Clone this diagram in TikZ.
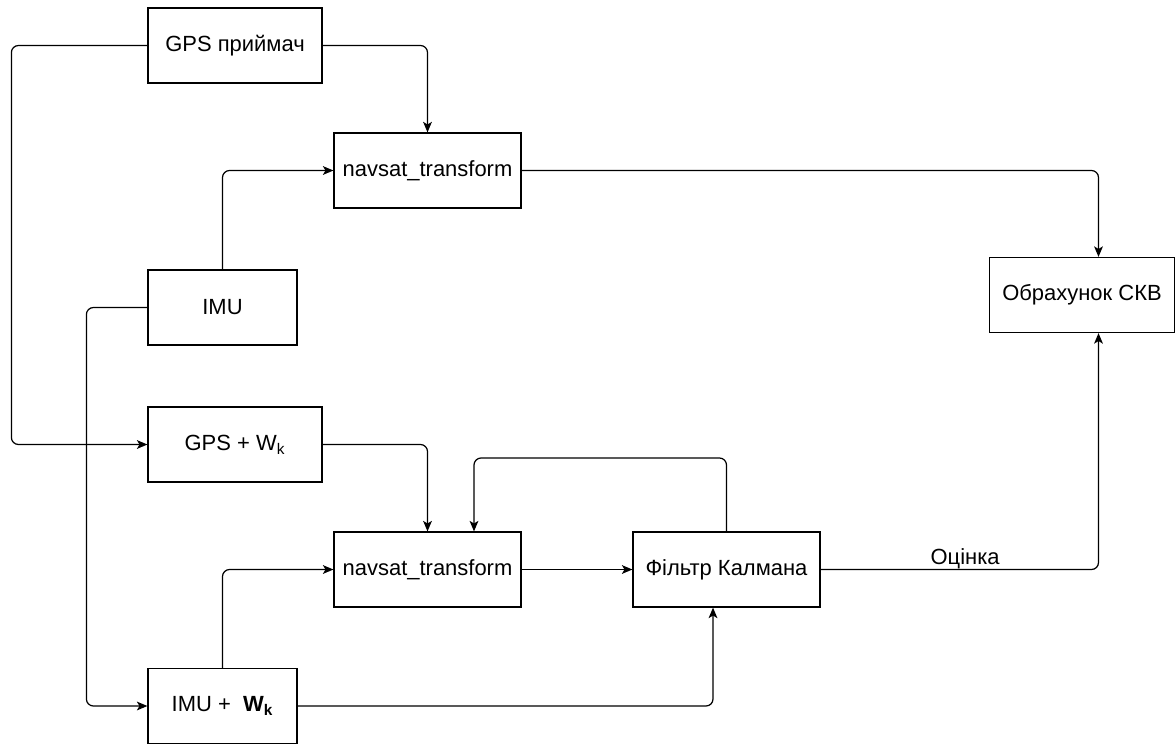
\documentclass[tikz,border=0pt]{standalone}
\usepackage{fontspec}
\setmainfont{Liberation Sans}
\usetikzlibrary{arrows.meta}

\tikzset{
  blk/.style={draw, line width=0.7pt, minimum height=1.5cm, inner sep=2pt,
    font=\fontsize{12.5}{15}\selectfont},
  conn/.style={draw, line width=0.7pt, rounded corners=4pt,
    -{Stealth[length=6pt,width=5pt,inset=1.5pt]}},
  lbl/.style={font=\fontsize{12.5}{15}\selectfont, inner sep=0pt}
}

\begin{document}
\begin{tikzpicture}[x=0.02cm, y=-0.02cm]
\useasboundingbox (0,0) rectangle (1175,744);
\node[blk, minimum width=3.48cm] (gps) at (235,45.5) {GPS приймач};
\node[blk, minimum width=3.74cm] (nav1) at (427.5,170.5) {navsat\_transform};
\node[blk, minimum width=2.98cm] (imu) at (222.5,307.5) {IMU};
\node[blk, minimum width=3.7cm] (skv) at (1082,295) {Обрахунок СКВ};
\node[blk, minimum width=3.48cm] (gpsw) at (235,444.5) {GPS + W\textsubscript{k}};
\node[blk, minimum width=3.74cm] (nav2) at (427.5,569.5) {navsat\_transform};
\node[blk, minimum width=3.74cm] (kal) at (726.5,569.5) {Фільтр Калмана};
\node[blk, minimum width=2.98cm] (imuw) at (222.5,706) {IMU +\ \ \textbf{W\textsubscript{k}}};
\coordinate (fb) at (474,458);
%
%
\draw[conn] (gps.east) -| (nav1.north);
\draw[conn] (gps.west) -- ++(-136,0) |- (gpsw.west);
\draw[conn] (imu.north) |- (nav1.west);
\draw[conn] (imu.west) -- ++(-61,0) |- (imuw.west);
\draw[conn] (nav1.east) -| ([xshift=0.33cm]skv.north);
\draw[conn] (gpsw.east) -| (nav2.north);
\draw[conn] (imuw.north) |- (nav2.west);
\draw[conn] (nav2.east) -- (kal.west);
\draw[conn] (imuw.east) -| ([xshift=-0.27cm]kal.south);
\draw[conn] (kal.north) |- (fb) -- (fb |- nav2.north);
\draw[conn] (kal.east) -| node[lbl, pos=0.26, anchor=south] {Оцінка} ([xshift=0.33cm]skv.south);
\end{tikzpicture}
\end{document}
